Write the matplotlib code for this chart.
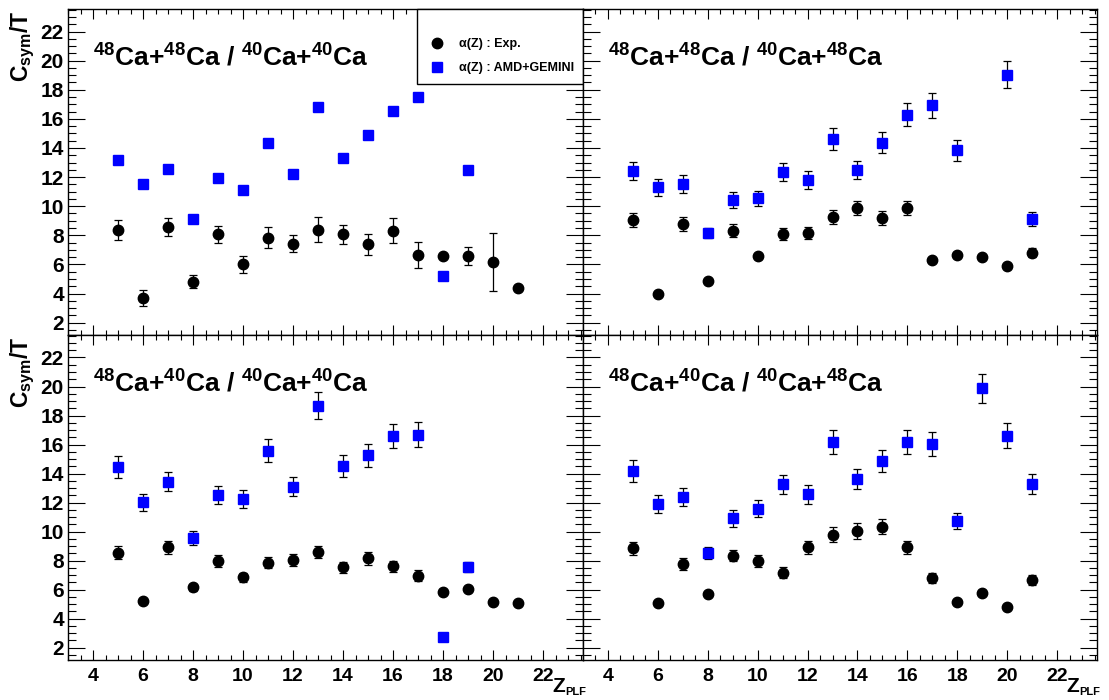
import numpy as np
import matplotlib
matplotlib.use("Agg")
import matplotlib.pyplot as plt
from matplotlib.ticker import MultipleLocator

# -------------------------
# Data
# -------------------------
z_exp = [5, 6, 7, 8, 9, 10, 11, 12, 13, 14, 15, 16, 17, 18, 19, 20, 21]

# 48Ca+48Ca / 40Ca+40Ca
tl_exp = [8.37, 3.66, 8.57, 4.80, 8.07, 6.00, 7.82, 7.43, 8.37, 8.07, 7.38, 8.32, 6.64, 6.57, 6.57, 6.14, 4.39]
tl_exp_err = [0.70, 0.55, 0.62, 0.45, 0.58, 0.57, 0.72, 0.60, 0.86, 0.65, 0.74, 0.84, 0.88, 0.10, 0.63, 2.00, 0.10]
tl_z_amd = [5, 6, 7, 8, 9, 10, 11, 12, 13, 14, 15, 16, 17, 18, 19]
tl_amd = [13.15, 11.54, 12.53, 9.10, 11.91, 11.10, 14.37, 12.23, 16.85, 13.31, 14.92, 16.55, 17.49, 5.22, 12.46]

# 48Ca+48Ca / 40Ca+48Ca
tr_exp = [9.06, 4.00, 8.76, 4.87, 8.32, 6.55, 8.11, 8.18, 9.24, 9.89, 9.17, 9.89, 6.32, 6.62, 6.51, 5.86, 6.80]
tr_exp_err = [0.48, 0.10, 0.47, 0.10, 0.44, 0.15, 0.40, 0.42, 0.48, 0.50, 0.47, 0.47, 0.15, 0.20, 0.15, 0.15, 0.30]
tr_z_amd = [5, 6, 7, 8, 9, 10, 11, 12, 13, 14, 15, 16, 17, 18, 20, 21]
tr_amd = [12.41, 11.29, 11.54, 8.16, 10.41, 10.53, 12.37, 11.79, 14.60, 12.48, 14.37, 16.30, 16.92, 13.84, 19.03, 9.10]
tr_amd_err = [0.63, 0.57, 0.62, 0.35, 0.54, 0.54, 0.63, 0.60, 0.74, 0.63, 0.74, 0.82, 0.85, 0.70, 0.94, 0.47]

# 48Ca+40Ca / 40Ca+40Ca
bl_exp = [8.55, 5.23, 8.92, 6.17, 8.00, 6.86, 7.86, 8.05, 8.60, 7.54, 8.16, 7.61, 6.97, 5.87, 6.06, 5.18, 5.07]
bl_exp_err = [0.44, 0.10, 0.44, 0.25, 0.42, 0.30, 0.38, 0.40, 0.42, 0.38, 0.43, 0.38, 0.35, 0.15, 0.15, 0.10, 0.10]
bl_z_amd = [5, 6, 7, 8, 9, 10, 11, 12, 13, 14, 15, 16, 17, 18, 19]
bl_amd = [14.44, 12.01, 13.43, 9.56, 12.52, 12.24, 15.56, 13.09, 18.68, 14.51, 15.26, 16.57, 16.68, 2.73, 7.54]
bl_amd_err = [0.76, 0.58, 0.65, 0.49, 0.63, 0.60, 0.79, 0.66, 0.94, 0.74, 0.78, 0.84, 0.84, 0.10, 0.35]

# 48Ca+40Ca / 40Ca+48Ca
br_exp = [8.85, 5.05, 7.77, 5.69, 8.35, 7.98, 7.18, 8.92, 9.79, 10.04, 10.34, 8.92, 6.79, 5.14, 5.80, 4.82, 6.65]
br_exp_err = [0.45, 0.10, 0.39, 0.15, 0.40, 0.42, 0.37, 0.46, 0.52, 0.53, 0.53, 0.45, 0.35, 0.15, 0.15, 0.10, 0.35]
br_z_amd = [5, 6, 7, 8, 9, 10, 11, 12, 13, 14, 15, 16, 17, 18, 19, 20, 21]
br_amd = [14.19, 11.87, 12.38, 8.51, 10.93, 11.58, 13.25, 12.56, 16.18, 13.62, 14.88, 16.18, 16.04, 10.71, 19.87, 16.62, 13.27]
br_amd_err = [0.75, 0.62, 0.64, 0.42, 0.58, 0.57, 0.68, 0.65, 0.84, 0.70, 0.77, 0.84, 0.83, 0.55, 1.02, 0.85, 0.68]

panel_titles = [
    r"$^{48}$Ca+$^{48}$Ca / $^{40}$Ca+$^{40}$Ca",
    r"$^{48}$Ca+$^{48}$Ca / $^{40}$Ca+$^{48}$Ca",
    r"$^{48}$Ca+$^{40}$Ca / $^{40}$Ca+$^{40}$Ca",
    r"$^{48}$Ca+$^{40}$Ca / $^{40}$Ca+$^{48}$Ca",
]
legend_labels = ["\u03b1(Z) : Exp.", "\u03b1(Z) : AMD+GEMINI"]

panels = [
    (tl_exp, tl_exp_err, tl_z_amd, tl_amd, None),
    (tr_exp, tr_exp_err, tr_z_amd, tr_amd, tr_amd_err),
    (bl_exp, bl_exp_err, bl_z_amd, bl_amd, bl_amd_err),
    (br_exp, br_exp_err, br_z_amd, br_amd, br_amd_err),
]

# -------------------------
# Style (ROOT-like)
# -------------------------
plt.rcParams['font.family'] = ['Liberation Sans', 'DejaVu Sans']
plt.rcParams['font.weight'] = 'bold'
plt.rcParams['mathtext.fontset'] = 'custom'
plt.rcParams['mathtext.rm'] = 'Liberation Sans:bold'
plt.rcParams['mathtext.it'] = 'Liberation Sans:bold'
plt.rcParams['mathtext.bf'] = 'Liberation Sans:bold'
plt.rcParams['mathtext.default'] = 'bf'

fig = plt.figure(figsize=(11.09, 7.0), dpi=100)

W, H = 1109.0, 700.0
x_edges = [68, 583, 1097]
y_edges = [9, 335, 660]

axes = []
for row in range(2):
    for col in range(2):
        left = x_edges[col] / W
        width = (x_edges[col + 1] - x_edges[col]) / W
        bottom = 1 - y_edges[row + 1] / H
        height = (y_edges[row + 1] - y_edges[row]) / H
        axes.append(fig.add_axes([left, bottom, width, height]))

for i, ax in enumerate(axes):
    exp, exp_err, z_amd, amd, amd_err = panels[i]
    row, col = divmod(i, 2)

    eb_exp = ax.errorbar(z_exp, exp, yerr=exp_err, fmt='o', color='black',
                         markersize=7.5, ecolor='black', elinewidth=0.9,
                         capsize=3, capthick=0.9)
    eb_amd = ax.errorbar(z_amd, amd, yerr=amd_err, fmt='s', color='#0000ff',
                         markersize=7.5, ecolor='black', elinewidth=0.9,
                         capsize=3, capthick=0.9)

    ax.set_xlim(3.0, 23.6)
    ax.set_ylim(1.15, 23.55)
    ax.xaxis.set_major_locator(MultipleLocator(2))
    ax.xaxis.set_minor_locator(MultipleLocator(0.5))
    ax.yaxis.set_major_locator(MultipleLocator(2))
    ax.yaxis.set_minor_locator(MultipleLocator(0.5))

    ax.tick_params(axis='both', which='both', direction='in',
                   top=True, right=True, width=0.8, colors='black')
    ax.tick_params(axis='y', which='major', length=12)
    ax.tick_params(axis='y', which='minor', length=6)
    ax.tick_params(axis='x', which='major', length=7)
    ax.tick_params(axis='x', which='minor', length=3.5)
    ax.tick_params(axis='y', labelsize=15, pad=3)
    ax.tick_params(axis='x', labelsize=14, pad=5.5)
    for spine in ax.spines.values():
        spine.set_linewidth(1.0)

    if col == 1:
        ax.tick_params(axis='y', labelleft=False)
    if row == 0:
        ax.tick_params(axis='x', labelbottom=False)

    ax.text(0.048, 0.825, panel_titles[i], transform=ax.transAxes,
            fontsize=19, fontweight='bold', ha='left', va='baseline')

    if col == 0:
        ax.text(-0.088, 0.997, r"C$_{sym}$/T", transform=ax.transAxes,
                rotation=90, fontsize=16.5, ha='center', va='top')
    if row == 1:
        ax.text(0.941, -0.097, "Z", transform=ax.transAxes,
                fontsize=15, ha='left', va='baseline')
        ax.text(0.965, -0.109, "PLF", transform=ax.transAxes,
                fontsize=8, ha='left', va='baseline')

    if i == 0:
        leg = ax.legend([eb_exp[0], eb_amd[0]], legend_labels,
                        loc='upper right', bbox_to_anchor=(1.0, 1.0),
                        borderaxespad=0, fontsize=9, title=" ",
                        title_fontsize=6, frameon=True, fancybox=False,
                        edgecolor='black', framealpha=1, borderpad=0.75,
                        handlelength=1.7, handletextpad=0.85,
                        labelspacing=1.0)
        leg.get_frame().set_linewidth(1.0)

plt.savefig("out.png", dpi=100)
